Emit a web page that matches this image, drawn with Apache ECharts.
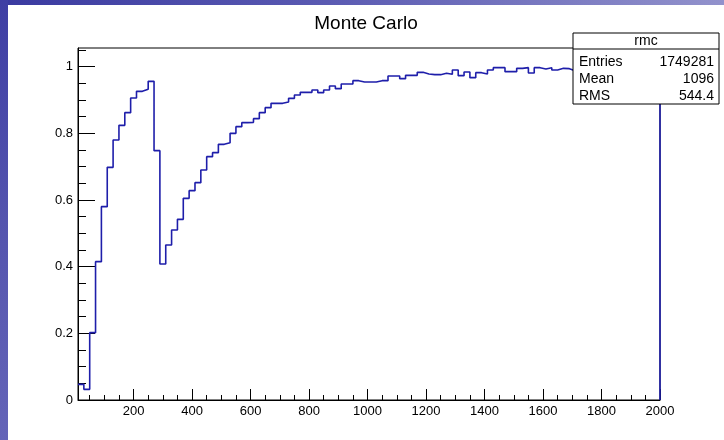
<!DOCTYPE html>
<html>
<head>
<meta charset="utf-8">
<script src="https://cdn.jsdelivr.net/npm/echarts@6/dist/echarts.min.js"></script>
<style>
  html, body { margin: 0; padding: 0; }
  body {
    width: 724px; height: 440px; overflow: hidden; position: relative;
    background: linear-gradient(to right, #3a3aa0 0%, #5a5ab2 45%, #9292cc 100%);
  }
  #side {
    position: absolute; left: 0; top: 0; width: 8px; height: 440px;
    background: linear-gradient(to bottom, #3e3ea4 0%, #5454ae 50%, #6464b8 100%);
  }
  #main {
    position: absolute; left: 8px; top: 5px; width: 716px; height: 435px;
    background: #fff;
  }
</style>
</head>
<body>
<div id="side"></div>
<div id="main"></div>
<script>
// histogram "rmc": bins of width 20 starting at 10, last bin cut at 2000
const binStart = 10;
const binWidth = 20;
const xMax = 2000;
const rmcValues = [
  0.047, 0.032, 0.202, 0.415, 0.580, 0.698, 0.780, 0.824, 0.862, 0.906,
  0.926, 0.932, 0.956, 0.748, 0.408, 0.465, 0.510, 0.542, 0.605, 0.628,
  0.652, 0.690, 0.730, 0.742, 0.767, 0.772, 0.800, 0.820, 0.832, 0.833,
  0.844, 0.862, 0.877, 0.890, 0.890, 0.894, 0.905, 0.915, 0.923, 0.923,
  0.930, 0.922, 0.930, 0.942, 0.934, 0.948, 0.948, 0.958, 0.954, 0.954,
  0.954, 0.958, 0.958, 0.972, 0.972, 0.964, 0.974, 0.974, 0.983, 0.978,
  0.976, 0.976, 0.980, 0.977, 0.990, 0.973, 0.984, 0.967, 0.982, 0.978,
  0.990, 0.997, 0.997, 0.985, 0.985, 0.995, 0.997, 0.981, 0.997, 0.993,
  0.997, 0.990, 0.995, 0.994, 0.988, 0.992, 0.998, 0.986, 0.995, 0.999,
  0.990, 0.996, 0.993, 1.000, 0.989, 0.997, 0.994, 0.991, 0.998, 0.995
];

// axis ticks
const xMajorTicks = [200, 400, 600, 800, 1000, 1200, 1400, 1600, 1800, 2000];
const xMinorTicks = [50, 100, 150, 250, 300, 350, 450, 500, 550, 650, 700, 750,
  850, 900, 950, 1050, 1100, 1150, 1250, 1300, 1350, 1450, 1500, 1550,
  1650, 1700, 1750, 1850, 1900, 1950];
const yMajorTicks = [0, 0.2, 0.4, 0.6, 0.8, 1];
const yMinorTicks = [0.05, 0.1, 0.15, 0.25, 0.3, 0.35, 0.45, 0.5, 0.55,
  0.65, 0.7, 0.75, 0.85, 0.9, 0.95, 1.05];

// stats box text
const statNames = ['Entries', 'Mean', 'RMS'];
const statValues = ['1749281', '1096', '544.4'];

// build step outline points
let points = [];
rmcValues.forEach(function (v, i) {
  points.push([binStart + i * binWidth, v]);
});
points.push([xMax, rmcValues[rmcValues.length - 1]]);
points.push([xMax, 0]);

const chart = echarts.init(document.getElementById('main'));
const font = 'Liberation Sans, Arial, Helvetica, sans-serif';

// stats box graphic
const boxX = 565, boxY = 28, boxW = 146, boxH = 71;
let statGraphics = [
  {
    type: 'rect', z: 100,
    shape: { x: boxX, y: boxY, width: boxW, height: boxH },
    style: { fill: '#fff', stroke: '#000', lineWidth: 1 }
  },
  {
    type: 'line', z: 101,
    shape: { x1: boxX, y1: boxY + 16, x2: boxX + boxW, y2: boxY + 16 },
    style: { stroke: '#000', lineWidth: 1 }
  },
  {
    type: 'text', z: 101, x: boxX + boxW / 2, y: boxY + 8,
    style: { text: 'rmc', font: '14px ' + font, fill: '#000', align: 'center', verticalAlign: 'middle' }
  }
];
statNames.forEach(function (name, i) {
  statGraphics.push({
    type: 'text', z: 101, x: boxX + 6, y: boxY + 29 + i * 17,
    style: { text: name, font: '14px ' + font, fill: '#000', align: 'left', verticalAlign: 'middle' }
  });
  statGraphics.push({
    type: 'text', z: 101, x: boxX + boxW - 5, y: boxY + 29 + i * 17,
    style: { text: statValues[i], font: '14px ' + font, fill: '#000', align: 'right', verticalAlign: 'middle' }
  });
});

function plainNum(v) {
  return String(v);
}

let option = {
  animation: false,
  backgroundColor: '#fff',
  title: {
    text: 'Monte Carlo',
    left: 'center',
    top: 4,
    textStyle: { fontFamily: font, fontSize: 19, fontWeight: 'normal', color: '#000' }
  },
  grid: {
    left: 70, top: 43, right: 64, bottom: 40,
    show: true, borderColor: '#000', borderWidth: 1,
    outerBoundsMode: 'none'
  },
  xAxis: [
    {
      type: 'value', min: binStart, max: xMax, position: 'bottom',
      axisLine: { onZero: false, lineStyle: { color: '#000', width: 1 } },
      axisTick: { inside: true, length: 11, customValues: xMajorTicks, lineStyle: { color: '#000' } },
      axisLabel: { customValues: xMajorTicks, formatter: plainNum, margin: 5, color: '#000', fontSize: 13, fontFamily: font },
      splitLine: { show: false }
    },
    {
      type: 'value', min: binStart, max: xMax, position: 'bottom',
      axisLine: { show: false, onZero: false },
      axisTick: { inside: true, length: 5, customValues: xMinorTicks, lineStyle: { color: '#000' } },
      axisLabel: { show: false },
      splitLine: { show: false }
    }
  ],
  yAxis: [
    {
      type: 'value', min: 0, max: 1.056, position: 'left',
      axisLine: { show: true, onZero: false, lineStyle: { color: '#000', width: 1 } },
      axisTick: { show: true, inside: true, length: 17, customValues: yMajorTicks, lineStyle: { color: '#000' } },
      axisLabel: { customValues: yMajorTicks, formatter: plainNum, margin: 5, color: '#000', fontSize: 13, fontFamily: font },
      splitLine: { show: false }
    },
    {
      type: 'value', min: 0, max: 1.056, position: 'left',
      axisLine: { show: false, onZero: false },
      axisTick: { show: true, inside: true, length: 8, customValues: yMinorTicks, lineStyle: { color: '#000' } },
      axisLabel: { show: false },
      splitLine: { show: false }
    }
  ],
  series: [
    {
      name: 'rmc',
      type: 'line',
      step: 'end',
      xAxisIndex: 0,
      yAxisIndex: 0,
      data: points,
      showSymbol: false,
      symbol: 'none',
      lineStyle: { color: '#1e1eaa', width: 1.6 },
      z: 5
    }
  ],
  graphic: statGraphics
};

chart.setOption(option);
</script>
</body>
</html>
